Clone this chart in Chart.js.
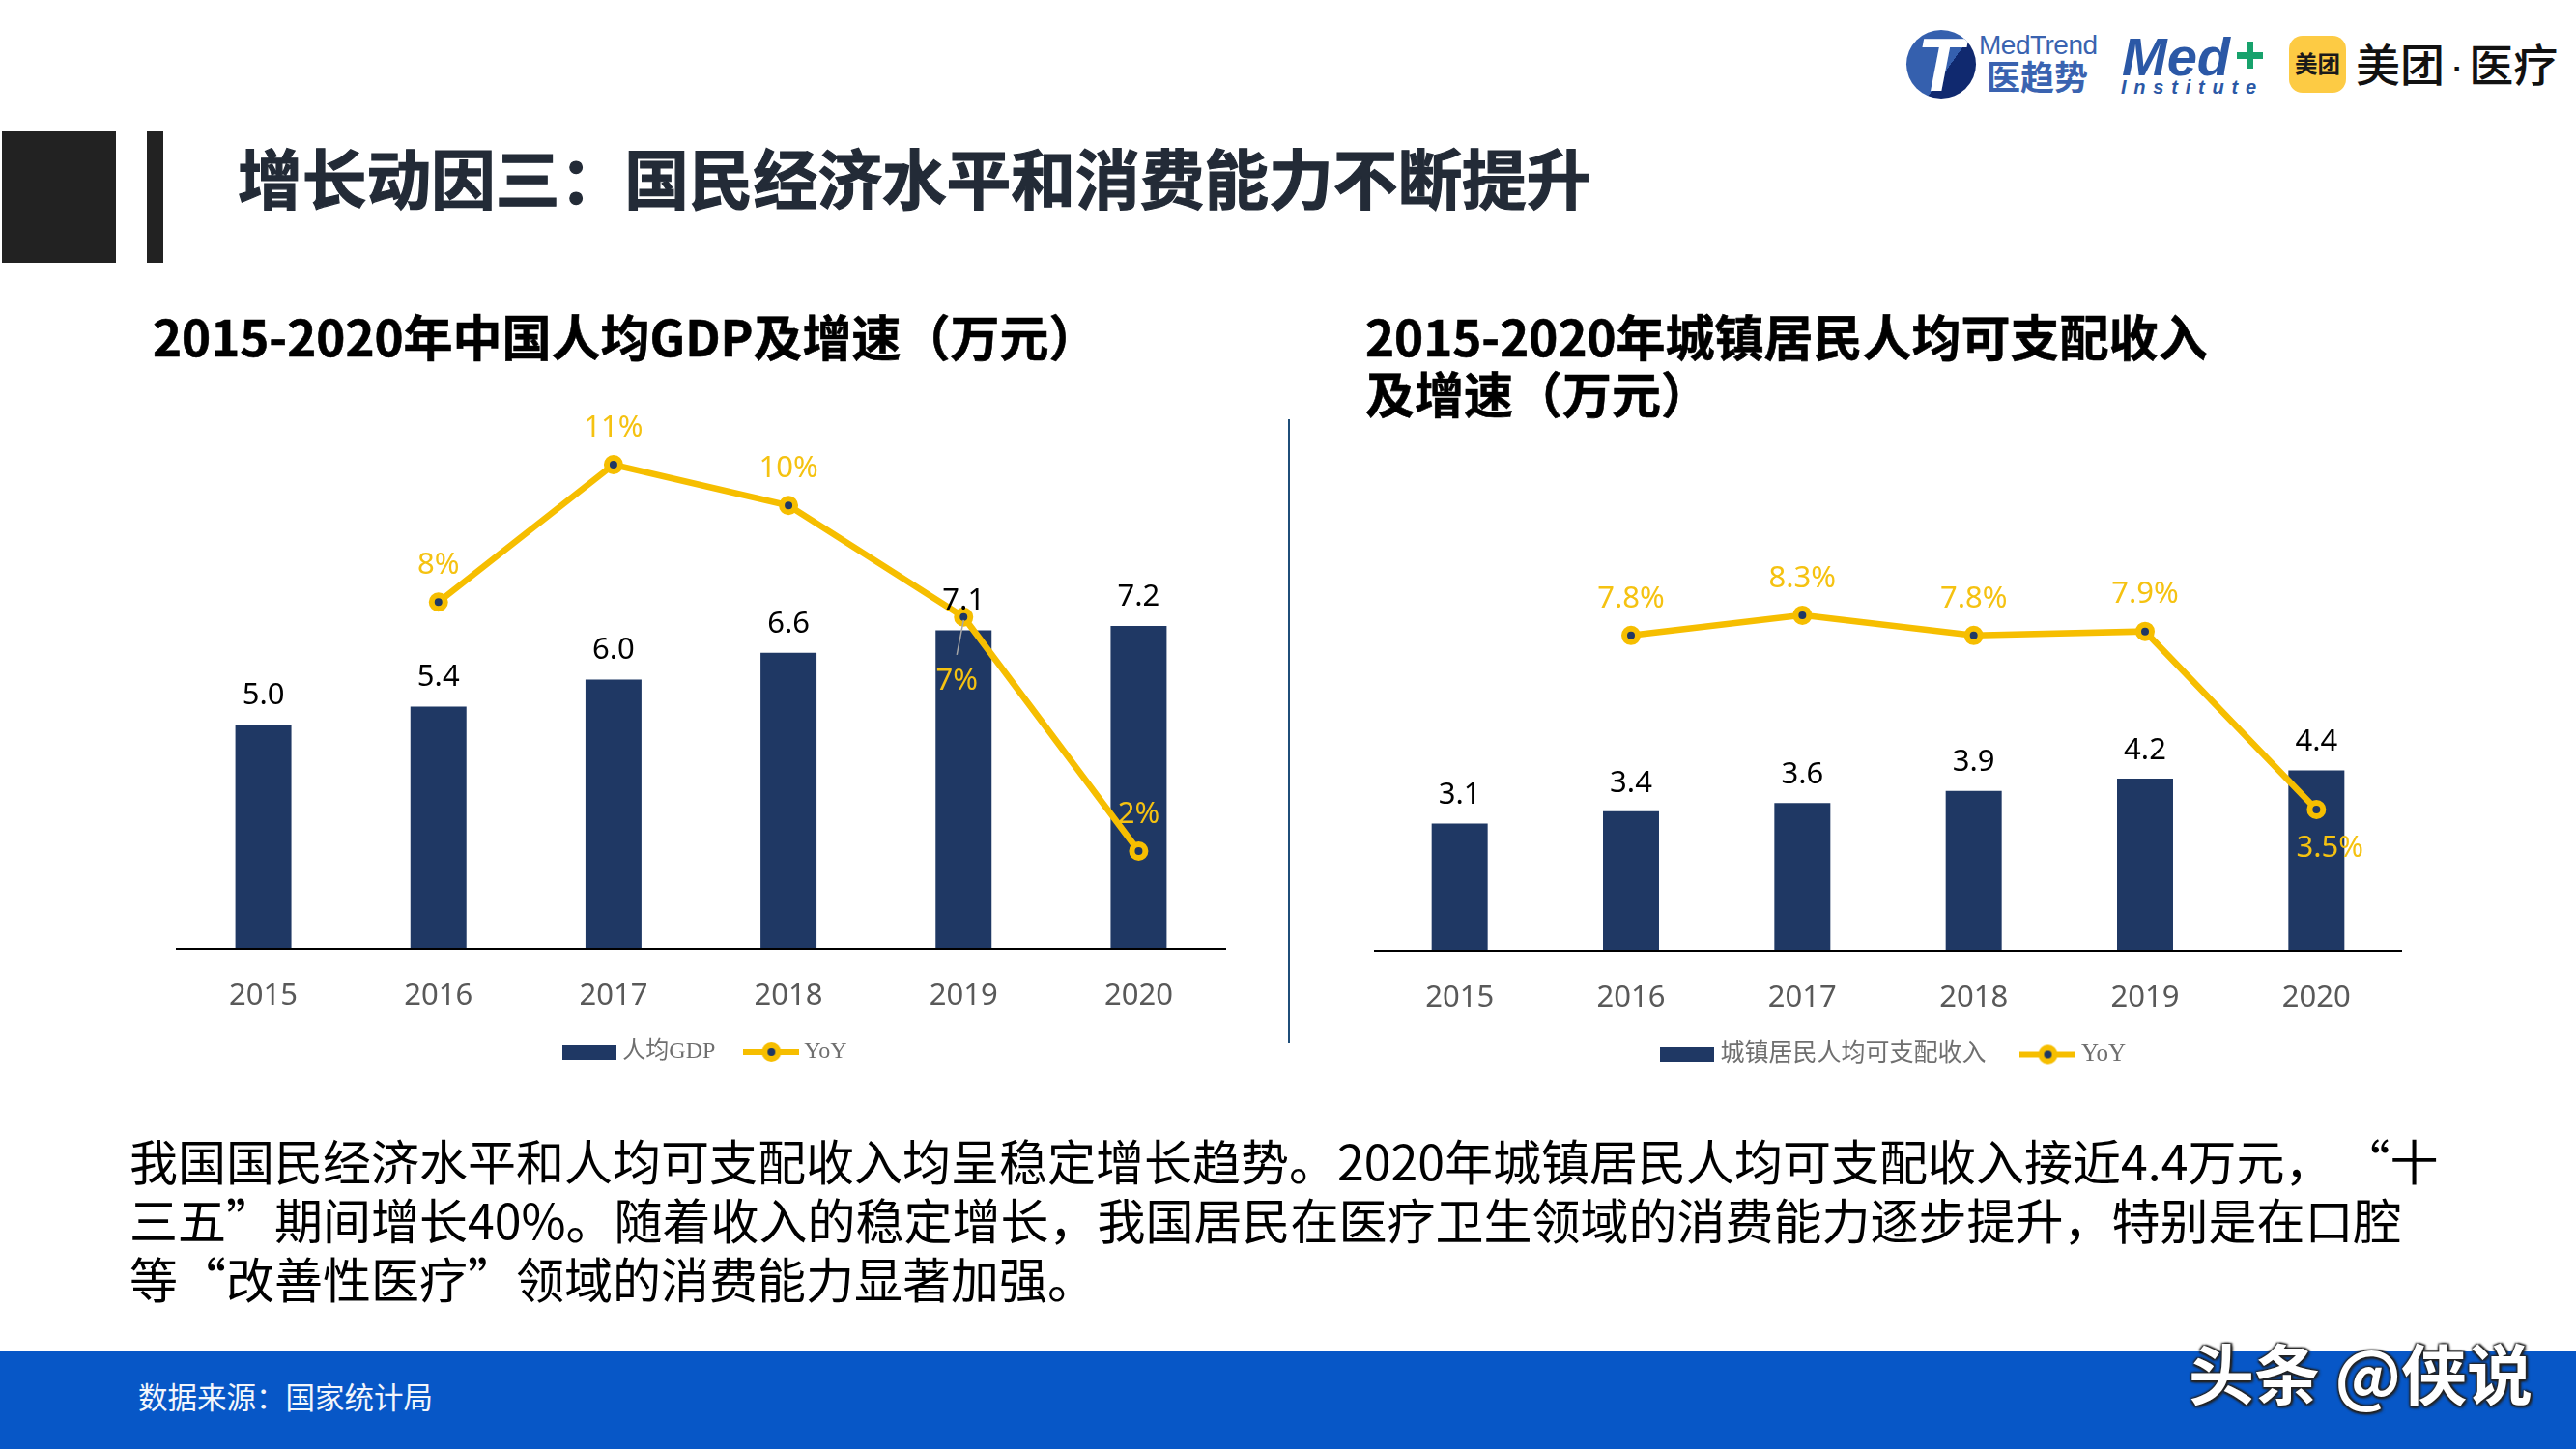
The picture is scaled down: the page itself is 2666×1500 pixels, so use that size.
<!DOCTYPE html>
<html lang="zh-CN">
<head>
<meta charset="utf-8">
<title>增长动因三</title>
<script src="https://cdn.jsdelivr.net/npm/chart.js@4/dist/chart.umd.js"></script>
<style>
html,body{margin:0;padding:0;background:#fff;}
#page{position:relative;width:2666px;height:1500px;overflow:hidden;background:#fff;font-family:"Noto Sans CJK SC","Noto Sans",sans-serif;color:#000;}
#page>*{position:absolute;}
.t{white-space:nowrap;line-height:1;}
canvas{position:absolute;display:block;}
</style>
</head>
<body>
<div id="page">
  <div style="left:2px;top:136px;width:118px;height:136px;background:#222"></div>
  <div style="left:152px;top:136px;width:17px;height:136px;background:#222"></div>
  <div class="t" style="left:246px;top:149px;font-size:66.7px;font-weight:700;color:#232b37;-webkit-text-stroke:1.2px #232b37">增长动因三：国民经济水平和消费能力不断提升</div>

  <!-- logos -->
  <div style="left:1973px;top:31px;width:72px;height:71px;border-radius:50%;overflow:hidden;background:linear-gradient(125deg,#3560ae 58%,#10296f 58%)">
    <div class="t" style="position:absolute;left:11px;top:0;font:italic 700 78px/72px 'Liberation Sans';color:#fff">T</div>
  </div>
  <div class="t" style="left:2048px;top:33px;font:400 28px/28px 'Liberation Sans';letter-spacing:-.5px;color:#3a63b0">MedTrend</div>
  <div class="t" style="left:2056px;top:60px;font-size:35px;font-weight:700;color:#3a63b0">医趋势</div>
  <div class="t" style="left:2196px;top:34px;font:italic 700 56px/50px 'Liberation Sans';color:#2b58a6">Med</div>
  <div style="left:2315px;top:54px;width:27px;height:7px;background:#17a26c"></div>
  <div style="left:2325px;top:43px;width:7px;height:28px;background:#17a26c"></div>
  <div class="t" style="left:2195px;top:80px;font:italic 700 20px/20px 'Liberation Sans';letter-spacing:7.8px;color:#2b58a6">Institute</div>
  <div style="left:2369px;top:37px;width:59px;height:59px;border-radius:14px;background:#fdcb44"></div>
  <div class="t" style="left:2375px;top:54px;font-size:23.5px;font-weight:700;color:#1a1a1a">美团</div>
  <div class="t" style="left:2438px;top:41px;font-size:46px;font-weight:500;color:#111">美团<span style="font-family:'Liberation Sans';margin:0 5px">·</span>医疗</div>

  <div class="t" style="left:158px;top:322px;font-size:51px;font-weight:700;-webkit-text-stroke:.6px #000">2015-2020年中国人均GDP及增速（万元）</div>
  <div class="t" style="left:1413px;top:322px;font-size:51px;font-weight:700;-webkit-text-stroke:.6px #000">2015-2020年城镇居民人均可支配收入</div>
  <div class="t" style="left:1413px;top:381px;font-size:51px;font-weight:700;-webkit-text-stroke:.6px #000">及增速（万元）</div>

  <div style="left:1333px;top:434px;width:2px;height:646px;background:#1f4e79"></div>

  <canvas id="leftChart" style="left:182px;top:400px"></canvas>
  <canvas id="rightChart" style="left:1422px;top:520px"></canvas>

  <div class="t" style="left:134px;top:1175px;font-size:50px">我国国民经济水平和人均可支配收入均呈稳定增长趋势。2020年城镇居民人均可支配收入接近4.4万元，<span style="margin-left:34px">“十</span></div>
  <div class="t" style="left:134px;top:1236px;font-size:50px">三五”期间增长40%。随着收入的稳定增长，我国居民在医疗卫生领域的消费能力逐步提升，特别是在口腔</div>
  <div class="t" style="left:134px;top:1297px;font-size:50px">等“改善性医疗”领域的消费能力显著加强。</div>

  <div style="left:0;top:1399px;width:2666px;height:101px;background:#0757c7"></div>
  <div class="t" style="left:143px;top:1430px;font-size:30.5px;color:#f2f6fc">数据来源：国家统计局</div>
  <div class="t" style="left:2265px;top:1386px;font-size:68px;font-weight:700;color:#fff;text-shadow:2px 2px 3px #222,-1px -1px 2px #222,2px -1px 2px #222,-1px 2px 2px #222">头条 @侠说</div>
</div>

<script>
const years = ['2015', '2016', '2017', '2018', '2019', '2020'];

const gdpName = '人均GDP';
const gdpValues = [5.0, 5.4, 6.0, 6.6, 7.1, 7.2];
const gdpYoy = [null, 7.8, 11, 10.05, 7.45, 2];

const incomeName = '城镇居民人均可支配收入';
const incomeValues = [3.1, 3.4, 3.6, 3.9, 4.2, 4.4];
const incomeYoy = [null, 7.8, 8.3, 7.8, 7.9, 3.5];

const yoyName = 'YoY';

const NAVY = '#1f3864', GOLD = '#f6be00', GOLD_TEXT = '#f5c211';
const SANS = '"Noto Sans","Noto Sans CJK SC",sans-serif';
const SERIF = '"Liberation Serif","Noto Sans CJK SC",serif';

function barSwatch() {
  const c = document.createElement('canvas');
  c.width = 56; c.height = 15;
  const x = c.getContext('2d');
  x.fillStyle = NAVY; x.fillRect(0, 0, 56, 15);
  return c;
}
function lineSwatch() {
  const c = document.createElement('canvas');
  c.width = 58; c.height = 24;
  const x = c.getContext('2d');
  x.strokeStyle = GOLD; x.lineWidth = 6;
  x.beginPath(); x.moveTo(0, 12); x.lineTo(58, 12); x.stroke();
  x.fillStyle = NAVY; x.lineWidth = 6;
  x.beginPath(); x.arc(29, 12, 7, 0, Math.PI * 2); x.fill(); x.stroke();
  return c;
}

const valueLabels = {
  id: 'valueLabels',
  afterDatasetsDraw(chart, _args, opts) {
    const ctx = chart.ctx;
    ctx.save();
    ctx.textAlign = 'center';
    ctx.textBaseline = 'middle';
    ctx.font = '31px ' + SANS;
    chart.data.datasets.forEach((ds, di) => {
      const isLine = ds.type === 'line';
      chart.getDatasetMeta(di).data.forEach((el, i) => {
        const v = ds.data[i];
        if (v === null) return;
        const shift = isLine ? (opts.yoyShift[i] || opts.yoyDefault) : opts.barShift;
        const lx = el.x + shift[0], ly = el.y + shift[1];
        if (isLine && opts.leader === i) {
          ctx.strokeStyle = '#a6a6a6';
          ctx.lineWidth = 1.5;
          ctx.beginPath(); ctx.moveTo(el.x, el.y + 3); ctx.lineTo(lx, ly - 27); ctx.stroke();
        }
        ctx.fillStyle = isLine ? GOLD_TEXT : '#000';
        ctx.fillText(isLine ? opts.yoyText(v) : v.toFixed(1), lx, ly);
      });
    });
    ctx.restore();
  }
};

const legendNudge = {
  id: 'legendNudge',
  afterLayout(chart, _args, opts) {
    chart.legend.left += opts.dx;
    chart.legend.right += opts.dx;
    chart.scales.x.bottom = chart.height;
  }
};

function makeChart(id, cfg) {
  const el = document.getElementById(id);
  return new Chart(el, {
    data: {
      labels: years,
      datasets: [
        { type: 'bar', label: cfg.barName, data: cfg.bars, yAxisID: 'yBar', order: 2,
          backgroundColor: NAVY, barPercentage: cfg.barPct, categoryPercentage: 1 },
        { type: 'line', label: yoyName, data: cfg.yoy, yAxisID: 'yLine', order: 1,
          borderColor: GOLD, borderWidth: 6.5, tension: 0, spanGaps: false,
          pointRadius: 7, pointBorderWidth: 6, pointBackgroundColor: NAVY, pointBorderColor: GOLD }
      ]
    },
    options: {
      responsive: false,
      animation: false,
      devicePixelRatio: 1,
      layout: { autoPadding: false, padding: { top: 40, left: 0, right: 0, bottom: 0 } },
      scales: {
        x: {
          grid: { display: false, drawTicks: false },
          border: { display: true, color: '#000', width: 2, z: 1 },
          ticks: { color: '#595959', padding: cfg.tickPad, font: { family: SANS, size: 31 }, maxRotation: 0 },
          afterFit(s) { s.height = cfg.axisH; }
        },
        yBar: { display: false, min: 0, max: cfg.barMax },
        yLine: { display: false, min: cfg.lineMin, max: cfg.lineMax }
      },
      plugins: {
        tooltip: { enabled: false },
        legend: {
          position: 'bottom',
          labels: {
            usePointStyle: true,
            pointStyleWidth: 44,
            padding: cfg.legendPad,
            color: '#6f6f6f',
            font: { family: SERIF, size: cfg.legendFont },
            generateLabels() {
              return [
                { text: cfg.barName, pointStyle: barSwatch(), fillStyle: NAVY, strokeStyle: NAVY, lineWidth: 0, hidden: false, datasetIndex: 0, fontColor: '#6f6f6f' },
                { text: yoyName, pointStyle: lineSwatch(), fillStyle: GOLD, strokeStyle: GOLD, lineWidth: 0, hidden: false, datasetIndex: 1, fontColor: '#6f6f6f' }
              ];
            }
          }
        },
        valueLabels: cfg.labels,
        legendNudge: { dx: cfg.legendDx }
      }
    },
    plugins: [valueLabels, legendNudge]
  });
}

function sizeCanvas(id, w, h) {
  const c = document.getElementById(id);
  c.width = w; c.height = h;
  c.style.width = w + 'px'; c.style.height = h + 'px';
}

sizeCanvas('leftChart', 1087, 711);
sizeCanvas('rightChart', 1064, 594);

makeChart('leftChart', {
  barName: gdpName, bars: gdpValues, yoy: gdpYoy, barPct: 0.32,
  barMax: 11.68, lineMin: -0.273, lineMax: 11.923,
  axisH: 59, tickPad: 31, legendPad: 36, legendFont: 24, legendDx: 7,
  labels: {
    barShift: [0, -30], yoyDefault: [0, -38], yoyShift: { 4: [-7, 66] }, leader: 4,
    yoyText: v => v.toFixed(0) + '%'
  }
});

makeChart('rightChart', {
  barName: incomeName, bars: incomeValues, yoy: incomeYoy, barPct: 0.327,
  barMax: 10, lineMin: 0.016, lineMax: 10.135,
  axisH: 53, tickPad: 31, legendPad: 42, legendFont: 25, legendDx: 8,
  labels: {
    barShift: [0, -29], yoyDefault: [0, -38], yoyShift: { 5: [14, 40] }, leader: -1,
    yoyText: v => v.toFixed(1) + '%'
  }
});
</script>
</body>
</html>
